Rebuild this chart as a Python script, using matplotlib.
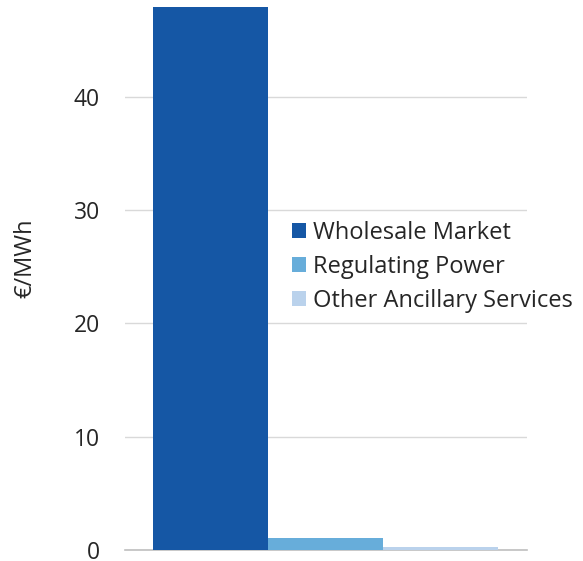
import matplotlib
matplotlib.use("Agg")
import matplotlib.pyplot as plt
from matplotlib.patches import Patch

categories = ["Wholesale Market", "Regulating Power", "Other Ancillary Services"]
values = [47.9, 1.05, 0.25]
colors = ["#1557A5", "#67ADDA", "#BAD2EC"]
yticks = [0, 10, 20, 30, 40]

plt.rcParams['font.family'] = ['Open Sans', 'DejaVu Sans']

fig = plt.figure(figsize=(5.83, 5.61), dpi=100)
ax = fig.add_axes([125/583, 1-550/561, 402/583, 550/561])
x = list(range(len(categories)))
ax.bar(x, values, width=1.0, color=colors, zorder=3, label=categories)
ax.set_xlim(-0.743, 2.752)
ax.set_ylim(0, 48.55)
ax.set_yticks(yticks)
ax.set_yticklabels([str(t) for t in yticks], fontsize=16.5, color="#262626")
ax.set_xticks([])
ax.tick_params(axis='y', length=0, pad=18)
ax.yaxis.grid(True, color="#D9D9D9", linewidth=1.0, zorder=0)
for s in ["top", "right", "left"]:
    ax.spines[s].set_visible(False)
ax.spines["bottom"].set_color("#BFBFBF")
ax.spines["bottom"].set_linewidth(1.2)
fig.text(25/583, 1-258/561, "€/MWh", rotation=90, ha="center", va="center",
         fontsize=17, color="#262626")

handles = [Patch(facecolor=c, edgecolor='none') for c in colors]
leg = fig.legend(handles, categories, loc="upper left",
                 bbox_to_anchor=(292/583, 1-221/561), frameon=False,
                 fontsize=17, handlelength=0.6, handleheight=0.6,
                 handletextpad=0.3, labelspacing=0.43, borderpad=0.0,
                 borderaxespad=0.0)
for t in leg.get_texts():
    t.set_color("#262626")

fig.savefig("out.png", dpi=100)
